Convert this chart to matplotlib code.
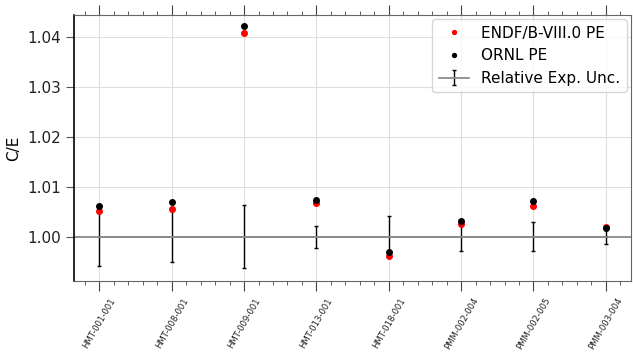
import numpy as np
import matplotlib.pyplot as plt
from matplotlib.ticker import MultipleLocator

cases = ['HMT-001-001', 'HMT-008-001', 'HMT-009-001', 'HMT-013-001',
         'HMT-018-001', 'PMM-002-004', 'PMM-002-005', 'PMM-003-004']
ce_endf = [1.0052, 1.0056, 1.0407, 1.0067, 0.9961, 1.0025, 1.0061, 1.0019]
ce_ornl = [1.0061, 1.0069, 1.0421, 1.0073, 0.9970, 1.0031, 1.0071, 1.0017]
exp_unc = [0.0059, 0.0051, 0.0063, 0.0022, 0.0041, 0.0028, 0.0029, 0.0014]

x = np.arange(len(cases))

fig = plt.figure(figsize=(6.33, 3.55), dpi=100)
ax = fig.add_axes([0.117, 0.2085, 0.88, 0.7495])

ax.axhline(1.0, color='#8c8c8c', lw=1.3, zorder=1)
ax.plot(x, ce_endf, 'o', color='red', ms=4, label='ENDF/B-VIII.0 PE', zorder=3)
ax.plot(x, ce_ornl, 'o', color='black', ms=4, label='ORNL PE', zorder=3)
ax.errorbar(x, np.ones(len(x)), yerr=exp_unc, fmt='-', color='#8c8c8c', lw=1.3,
            ecolor='black', elinewidth=1, capsize=1.5, capthick=1,
            label='Relative Exp. Unc.', zorder=2)

ax.set_xlim(-0.35, 7.35)
ax.set_ylim(0.9912, 1.0444)
ax.set_xticks(x)
ax.set_xticklabels(cases, rotation=60, fontsize=6.1)
ax.xaxis.set_minor_locator(MultipleLocator(0.2))
ax.yaxis.set_major_locator(MultipleLocator(0.01))
ax.tick_params(axis='x', which='both', top=True, labeltop=False, colors='#444444',
               labelcolor='#222222')
ax.tick_params(axis='x', which='major', length=7, pad=4)
ax.tick_params(axis='x', which='minor', length=3)
ax.tick_params(axis='y', which='major', length=6, labelsize=11, colors='#555555',
               labelcolor='#222222')
ax.set_ylabel('C/E', fontsize=11)
ax.grid(True, which='major', color='#dedede', lw=0.8)
ax.set_axisbelow(True)

for side in ['top', 'right', 'bottom']:
    ax.spines[side].set_color('#666666')
ax.spines['left'].set_color('black')
ax.spines['left'].set_linewidth(1.2)

ax.legend(loc='upper right', fontsize=11, markerscale=0.7, borderaxespad=0.3)

fig.savefig('out.png', dpi=100)
